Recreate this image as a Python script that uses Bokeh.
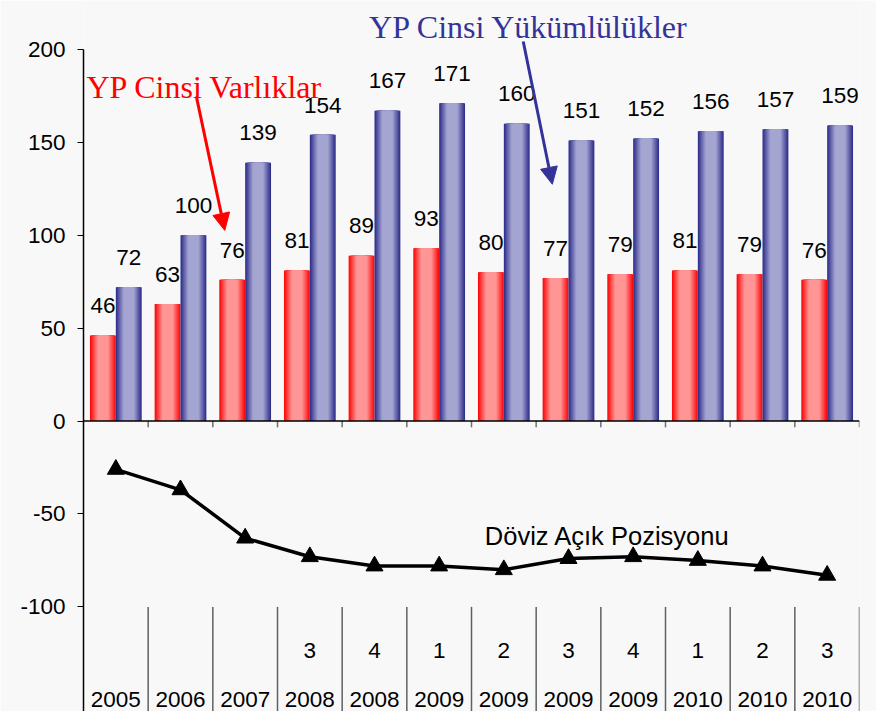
from bokeh.plotting import figure
from bokeh.models import ColumnDataSource, FixedTicker, Arrow, NormalHead, Span, PrintfTickFormatter
from bokeh.core.properties import value
from bokeh.embed import file_html
from bokeh.resources import INLINE

# ---- data ----
years = ["2005", "2006", "2007", "2008", "2008", "2009", "2009", "2009", "2009", "2010", "2010", "2010"]
quarters = ["", "", "", "3", "4", "1", "2", "3", "4", "1", "2", "3"]
varliklar = [46, 63, 76, 81, 89, 93, 80, 77, 79, 81, 79, 76]
yukumlulukler = [72, 100, 139, 154, 167, 171, 160, 151, 152, 156, 157, 159]
acik_pozisyon = [-26, -37, -63, -73, -78, -78, -80, -74, -73, -75, -78, -83]
y_ticks = [-100, -50, 0, 50, 100, 150, 200]

BG = "#f8f8f8"
SANS = "Liberation Sans"
SERIF = "Liberation Serif"

n = len(years)
Y0, Y1 = -156.3, 226.3
xc = [i + 0.5 for i in range(n)]
src = ColumnDataSource(dict(
    xr=[x - 0.2 for x in xc],
    xb=[x + 0.2 for x in xc],
    x=xc,
    v=varliklar,
    y=yukumlulukler,
    a=acik_pozisyon,
    vl=[str(v) for v in varliklar],
    yl=[str(v) for v in yukumlulukler],
    vly=[v + 16 for v in varliklar],
    yly=[v + 16 for v in yukumlulukler],
    q=quarters,
    yr=years,
    qy=[-123.7] * n,
    yy=[-150.0] * n,
))

p = figure(width=876, height=711, x_range=(0, n), y_range=(Y0, Y1),
           output_backend="svg", toolbar_location=None, x_axis_location=None,
           min_border_left=83, min_border_right=17, min_border_top=0, min_border_bottom=0)
p.background_fill_color = BG
p.border_fill_color = BG
p.outline_line_color = None
p.grid.visible = False

ax = p.yaxis[0]
ax.ticker = FixedTicker(ticks=y_ticks)
ax.formatter = PrintfTickFormatter(format="%d")
ax.bounds = (Y0, 200)
ax.axis_line_color = "black"
ax.axis_line_width = 1.5
ax.major_tick_out = 6
ax.major_tick_in = 0
ax.major_tick_line_color = "black"
ax.minor_tick_line_color = None
ax.major_label_standoff = 12
ax.major_label_text_font = SANS
ax.major_label_text_font_size = "22.5px"
ax.major_label_text_color = "black"


def lerp(c1, c2, t):
    return "#%02x%02x%02x" % tuple(int(round(a + (b - a) * t)) for a, b in zip(c1, c2))


# gradient bars made of concentric layers
steps = 14
red_edge, red_mid = (252, 10, 10), (255, 150, 150)
blue_edge, blue_mid = (48, 48, 140), (165, 165, 210)
for k in range(steps):
    t = k / (steps - 1)
    w = 0.4 * (1 - 0.93 * t)
    tt = min(1.0, t * 1.6)
    p.vbar(x="xr", top="v", bottom=0, width=w, source=src,
           fill_color=lerp(red_edge, red_mid, tt), line_color=None)
    p.vbar(x="xb", top="y", bottom=0, width=w, source=src,
           fill_color=lerp(blue_edge, blue_mid, tt), line_color=None)

# x axis at zero with boundary ticks
p.add_layout(Span(location=0, dimension="width", line_color="black", line_width=1.5))
bounds = list(range(1, n + 1))
p.segment(x0=bounds, y0=[0] * n, x1=bounds, y1=[-3.4] * n, line_color="#707070", line_width=1.5)
# category separators in the label area
p.segment(x0=bounds, y0=[-100] * n, x1=bounds, y1=[Y0] * n, line_color="#606060", line_width=1.5)

# category labels
p.text(x="x", y="qy", text="q", source=src, text_font=value(SANS), text_font_size="22.5px",
       text_align="center", text_baseline="alphabetic", text_color="black")
p.text(x="x", y="yy", text="yr", source=src, text_font=value(SANS), text_font_size="22.5px",
       text_align="center", text_baseline="alphabetic", text_color="black")

# value labels
p.text(x="xr", y="vly", text="vl", source=src, text_font=value(SANS), text_font_size="22.5px",
       text_align="center", text_baseline="middle", text_color="black")
p.text(x="xb", y="yly", text="yl", source=src, text_font=value(SANS), text_font_size="22.5px",
       text_align="center", text_baseline="middle", text_color="black")

# net open position line
p.line(x="x", y="a", source=src, line_color="black", line_width=3.5)
p.scatter(x="x", y="a", source=src, marker="triangle", size=17,
          fill_color="black", line_color="black")

# annotations
p.text(x=[0.046], y=[179.5], text=["YP Cinsi Varlıklar"], text_font=value(SERIF),
       text_font_size="32px", text_color="#ff0000", text_baseline="alphabetic", text_align="left")
p.text(x=[4.416], y=[212.1], text=["YP Cinsi Yükümlülükler"], text_font=value(SERIF),
       text_font_size="32px", text_color="#333399", text_baseline="alphabetic", text_align="left")
p.text(x=[6.206], y=[-62.1], text=["Döviz Açık Pozisyonu"], text_font=value(SANS),
       text_font_size="25.5px", text_color="black", text_baseline="alphabetic", text_align="left")

p.add_layout(Arrow(end=NormalHead(size=17, fill_color="#ff0000", line_color="#ff0000"),
                   x_start=1.745, y_start=174.7, x_end=2.185, y_end=102.6,
                   line_color="#ff0000", line_width=3))
p.add_layout(Arrow(end=NormalHead(size=17, fill_color="#333399", line_color="#333399"),
                   x_start=6.80, y_start=204.2, x_end=7.25, y_end=127.4,
                   line_color="#333399", line_width=3))

html = file_html(p, INLINE)
html = html.replace("<body>", '<body style="background-color:#f8f8f8;">', 1)
open("out.html", "w").write(html)
